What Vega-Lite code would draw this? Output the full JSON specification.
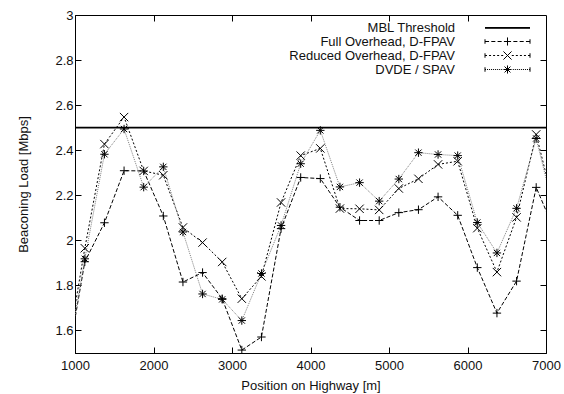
{
  "$schema": "https://vega.github.io/schema/vega-lite/v6.json",
  "width": 471,
  "height": 338,
  "autosize": {"type": "none"},
  "padding": {"left": 75, "top": 15, "right": 18, "bottom": 41},
  "background": "white",
  "datasets": {
    "loads": [
      {"x": 875, "f": 1.40, "r": 1.45, "d": 1.42},
      {"x": 1125, "f": 1.905, "r": 1.965, "d": 1.918},
      {"x": 1375, "f": 2.078, "r": 2.427, "d": 2.382},
      {"x": 1625, "f": 2.309, "r": 2.547, "d": 2.494},
      {"x": 1875, "f": 2.308, "r": 2.308, "d": 2.236},
      {"x": 2125, "f": 2.108, "r": 2.289, "d": 2.326},
      {"x": 2375, "f": 1.815, "r": 2.057, "d": 2.037},
      {"x": 2625, "f": 1.857, "r": 1.99, "d": 1.762},
      {"x": 2875, "f": 1.741, "r": 1.904, "d": 1.738},
      {"x": 3125, "f": 1.513, "r": 1.741, "d": 1.644},
      {"x": 3375, "f": 1.571, "r": 1.84, "d": 1.853},
      {"x": 3625, "f": 2.052, "r": 2.168, "d": 2.066},
      {"x": 3875, "f": 2.279, "r": 2.376, "d": 2.34},
      {"x": 4125, "f": 2.274, "r": 2.408, "d": 2.488},
      {"x": 4375, "f": 2.147, "r": 2.141, "d": 2.237},
      {"x": 4625, "f": 2.088, "r": 2.14, "d": 2.256},
      {"x": 4875, "f": 2.088, "r": 2.135, "d": 2.174},
      {"x": 5125, "f": 2.123, "r": 2.23, "d": 2.272},
      {"x": 5375, "f": 2.136, "r": 2.273, "d": 2.389},
      {"x": 5625, "f": 2.193, "r": 2.337, "d": 2.381},
      {"x": 5875, "f": 2.111, "r": 2.351, "d": 2.376},
      {"x": 6125, "f": 1.879, "r": 2.054, "d": 2.079},
      {"x": 6375, "f": 1.677, "r": 1.859, "d": 1.944},
      {"x": 6625, "f": 1.819, "r": 2.102, "d": 2.142},
      {"x": 6875, "f": 2.235, "r": 2.47, "d": 2.452},
      {"x": 7125, "f": 2.03, "r": 2.12, "d": 2.10}
    ],
    "mbl": [{"y": 2.5}]
  },
  "resolve": {"axis": {"x": "independent", "y": "independent"}, "scale": {"shape": "independent"}},
  "layer": [
    {
      "data": {"name": "mbl"},
      "mark": {"type": "rule", "stroke": "#000", "strokeWidth": 1.6},
      "encoding": {
        "y": {
          "field": "y", "type": "quantitative",
          "scale": {"domain": [1.5, 3], "nice": false, "zero": false},
          "axis": {"orient": "right", "labels": false, "title": null, "domain": false, "values": [1.6, 1.8, 2, 2.2, 2.4, 2.6, 2.8]}
        }
      }
    },
    {
      "data": {"name": "loads"},
      "transform": [{"fold": ["f", "r", "d"], "as": ["s", "v"]}],
      "mark": {"type": "line", "strokeWidth": 1, "clip": true},
      "encoding": {
        "x": {
          "field": "x", "type": "quantitative",
          "scale": {"domain": [1000, 7000], "nice": false, "zero": false},
          "axis": {"orient": "bottom", "title": "Position on Highway [m]", "values": [1000, 2000, 3000, 4000, 5000, 6000, 7000], "format": "d", "labelFlush": false, "labelPadding": 12, "titlePadding": 7}
        },
        "y": {
          "field": "v", "type": "quantitative",
          "scale": {"domain": [1.5, 3], "nice": false, "zero": false},
          "axis": {"orient": "left", "title": "Beaconing Load [Mbps]", "values": [1.6, 1.8, 2, 2.2, 2.4, 2.6, 2.8, 3], "format": "~g", "labelFlush": false, "titlePadding": 24}
        },
        "strokeDash": {
          "field": "s", "type": "nominal", "legend": null,
          "scale": {"domain": ["f", "r", "d"], "range": [[4, 2], [2, 2], [1, 1]]}
        },
        "stroke": {
          "field": "s", "type": "nominal", "legend": null,
          "scale": {"domain": ["f", "r", "d"], "range": ["#000000", "#000000", "#808080"]}
        }
      }
    },
    {
      "data": {"name": "loads"},
      "transform": [{"fold": ["f", "r", "d"], "as": ["s", "v"]}],
      "mark": {"type": "point", "filled": false, "size": 70, "strokeWidth": 1, "stroke": "#000", "opacity": 1, "clip": true},
      "encoding": {
        "x": {
          "field": "x", "type": "quantitative",
          "scale": {"domain": [1000, 7000], "nice": false, "zero": false},
          "axis": {"orient": "top", "labels": false, "title": null, "domain": false, "values": [2000, 3000, 4000, 5000, 6000]}
        },
        "y": {"field": "v", "type": "quantitative", "scale": {"domain": [1.5, 3], "nice": false, "zero": false}, "axis": null},
        "shape": {
          "field": "s", "type": "nominal", "legend": null,
          "scale": {
            "domain": ["f", "r", "d"],
            "range": [
              "M-1,0L1,0M0,-1L0,1",
              "M-1,-1L1,1M-1,1L1,-1",
              "M-1,0L1,0M0,-1L0,1M-0.75,-0.75L0.75,0.75M-0.75,0.75L0.75,-0.75"
            ]
          }
        }
      }
    },
    {
      "data": {"name": "mbl"},
      "transform": [{"filter": "datum.y > 10"}],
      "mark": {"type": "point", "filled": false, "size": 100, "strokeWidth": 1, "stroke": "#000", "opacity": 1},
      "encoding": {
        "shape": {
          "field": "series", "type": "nominal",
          "scale": {
            "domain": ["MBL Threshold", "Full Overhead, D-FPAV", "Reduced Overhead, D-FPAV", "DVDE / SPAV"],
            "range": [
              "M-4.5,0L4.5,0M-4.5,0.16L4.5,0.16",
              "M-4.5,-0.45L-4.5,0.45M4.5,-0.45L4.5,0.45M-4.5,0L-3.69,0M-3.24,0L-2.43,0M-1.98,0L-1.17,0M-0.72,0L0.72,0M1.17,0L1.98,0M2.43,0L3.24,0M3.69,0L4.5,0M0,-0.81L0,0.81",
              "M-4.5,-0.45L-4.5,0.45M4.5,-0.45L4.5,0.45M-4.5,0L-4.1,0M-3.69,0L-3.29,0M-2.88,0L-2.48,0M-2.07,0L-1.67,0M-1.26,0L-0.86,0M0.86,0L1.26,0M1.67,0L2.07,0M2.48,0L2.88,0M3.29,0L3.69,0M4.1,0L4.5,0M-0.81,-0.81L0.81,0.81M-0.81,0.81L0.81,-0.81",
              "M-4.5,-0.45L-4.5,0.45M4.5,-0.45L4.5,0.45M-4.5,0L-4.3,0M-4.1,0L-3.89,0M-3.69,0L-3.49,0M-3.29,0L-3.08,0M-2.88,0L-2.68,0M-2.48,0L-2.27,0M-2.07,0L-1.87,0M-1.67,0L-1.46,0M-1.26,0L-1.06,0M1.06,0L1.26,0M1.46,0L1.67,0M1.87,0L2.07,0M2.27,0L2.48,0M2.68,0L2.88,0M3.08,0L3.29,0M3.49,0L3.69,0M3.89,0L4.1,0M4.3,0L4.5,0M-0.81,0L0.81,0M0,-0.81L0,0.81M-0.59,-0.59L0.59,0.59M-0.59,0.59L0.59,-0.59"
            ]
          },
          "legend": {
            "orient": "none",
            "legendX": 426,
            "legendY": 6,
            "title": null,
            "padding": 0,
            "labelAlign": "right",
            "labelOffset": -59,
            "labelFont": "Liberation Sans",
            "labelFontSize": 13,
            "labelColor": "#111",
            "labelLimit": 300,
            "symbolSize": 100,
            "symbolStrokeWidth": 1,
            "symbolStrokeColor": "#000",
            "symbolFillColor": "transparent",
            "rowPadding": -1.2
          }
        }
      }
    }
  ],
  "config": {
    "view": {"stroke": "#000", "strokeWidth": 1},
    "axis": {
      "labelFont": "Liberation Sans", "labelFontSize": 13, "labelColor": "#111",
      "titleFont": "Liberation Sans", "titleFontSize": 13, "titleFontWeight": "normal", "titleColor": "#111",
      "tickColor": "#000", "domainColor": "#000", "grid": false,
      "tickSize": -6, "labelPadding": 8
    }
  }
}
